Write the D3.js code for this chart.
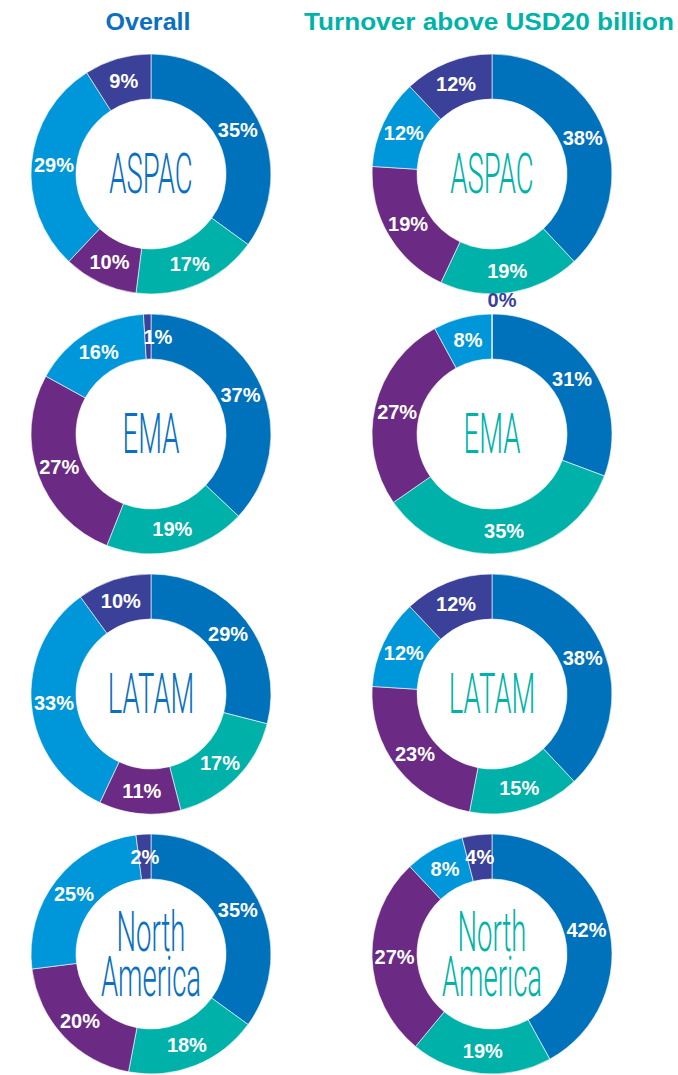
<!DOCTYPE html>
<html>
<head>
<meta charset="utf-8">
<script src="https://cdn.jsdelivr.net/npm/d3@7"></script>
<style>
  body { margin: 0; background: #fff; }
  svg { display: block; }
</style>
</head>
<body>
<div id="chart"></div>
<script>
// data
let groups = ["Overall", "Turnover above USD20 billion"];
let regions = ["ASPAC", "EMA", "LATAM", "North America"];
let overall = [
    [35, 17, 10, 29, 9],
    [37, 19, 27, 16, 1],
    [29, 17, 11, 33, 10],
    [35, 18, 20, 25, 2]
];
let above20 = [
    [38, 19, 19, 12, 12],
    [31, 35, 27, 8, 0],
    [38, 15, 23, 12, 12],
    [42, 19, 27, 8, 4]
];

let segColors = ["#0071bb", "#00b1a9", "#6b2a83", "#0097da", "#3b4098"];
let groupColors = ["#0a70bf", "#00b3a9"];

let width = 678, height = 1075;
let outerR = 120, innerR = 75;

let svg = d3.select("#chart").append("svg")
    .attr("width", width)
    .attr("height", height);

// column / row positions
let x = d3.scalePoint().domain(groups).range([151, 492]);
let y = d3.scalePoint().domain(regions).range([174, 954]);
let color = d3.scaleOrdinal().domain(d3.range(5)).range(segColors);

let pie = d3.pie().sort(null).value(function(d) { return d; });
let arc = d3.arc().innerRadius(innerR).outerRadius(outerR);
let outerArc = d3.arc().innerRadius(outerR + 14).outerRadius(outerR + 14);

// column titles
svg.selectAll(".title")
    .data(groups)
    .enter()
    .append("text")
    .attr("class", "title")
    .attr("x", function(d) { return x(d) - 3; })
    .attr("y", 30)
    .attr("text-anchor", "middle")
    .attr("fill", function(d, i) { return groupColors[i]; })
    .style("font-family", "'Liberation Sans', Arial, sans-serif")
    .style("font-weight", "bold")
    .style("font-size", "24px")
    .attr("textLength", function(d, i) { return i == 0 ? 85 : 370; })
    .attr("lengthAdjust", "spacingAndGlyphs")
    .text(function(d) { return d; });

let tables = [overall, above20];

groups.forEach(function(g, gi) {
    regions.forEach(function(r, ri) {
        let vals = tables[gi][ri];
        let donut = svg.append("g")
            .attr("transform", "translate(" + x(g) + "," + y(r) + ")");

        let slices = pie(vals);

        donut.selectAll("path")
            .data(slices)
            .enter()
            .append("path")
            .attr("d", arc)
            .attr("fill", function(d, i) { return color(i); })
            .attr("stroke", "#fff")
            .attr("stroke-width", 0.6);

        // percentage labels (tiny slices get a little nudge to the right)
        donut.selectAll(".lbl")
            .data(slices)
            .enter()
            .append("text")
            .attr("class", "lbl")
            .attr("transform", function(d) {
                let c = d.data == 0 ? outerArc.centroid(d) : arc.centroid(d);
                if (d.data <= 1) c[0] += 10;
                return "translate(" + c[0] + "," + c[1] + ")";
            })
            .attr("dy", "0.36em")
            .attr("text-anchor", "middle")
            .attr("fill", function(d) { return d.data == 0 ? segColors[4] : "#fff"; })
            .style("font-family", "'Liberation Sans', Arial, sans-serif")
            .style("font-weight", "bold")
            .style("font-size", "20px")
            .text(function(d) { return d.data + "%"; });

        // region name in the hole
        let words = r.split(" ");
        let lineH = 45;
        words.forEach(function(w, wi) {
            donut.append("text")
                .attr("text-anchor", "middle")
                .attr("fill", groupColors[gi])
                .style("font-family", "Roboto, 'DejaVu Sans', sans-serif")
                .style("font-weight", 300)
                .style("font-size", "55px")
                .attr("transform", "scale(0.5,1)")
                .attr("x", 0)
                .attr("y", 19 + (wi - (words.length - 1) / 2) * lineH)
                .text(w);
        });
    });
});
</script>
</body>
</html>
